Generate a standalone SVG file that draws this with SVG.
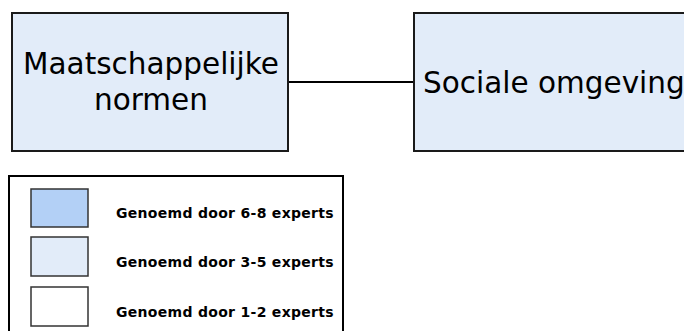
<svg xmlns="http://www.w3.org/2000/svg" width="684" height="331" viewBox="0 0 684 331">
  <style>
    .node { fill: #e2ecf9; stroke: #1a1a1a; stroke-width: 2; }
    .label { font-family: "DejaVu Sans", Verdana, sans-serif; font-size: 29.5px; fill: #000; }
    .edge { stroke: #000; stroke-width: 2; fill: none; }
    .legend-frame { fill: #fff; stroke: #000; stroke-width: 2; }
    .swatch { stroke: #333; stroke-width: 1.5; }
    .legend-text { font-family: "DejaVu Sans", Verdana, sans-serif; font-size: 14px; letter-spacing: 0.3px; font-weight: bold; fill: #000; }
  </style>
  <rect width="684" height="331" fill="#fff"/>

  <g id="connectors">
    <line class="edge" x1="288" y1="82" x2="414" y2="82"/>
  </g>

  <g id="maatschappelijke-normen">
    <rect class="node" x="12" y="13" width="276" height="138"/>
    <text class="label" x="151" y="74" text-anchor="middle">Maatschappelijke</text>
    <text class="label" x="151" y="110" text-anchor="middle">normen</text>
  </g>

  <g id="sociale-omgeving">
    <rect class="node" x="414" y="13" width="290" height="138"/>
    <text class="label" x="423" y="93">Sociale omgeving</text>
  </g>

  <g id="legend">
    <rect class="legend-frame" x="9" y="176" width="334" height="170"/>
    <rect class="swatch" x="31" y="189" width="57" height="38" fill="#b3d0f6"/>
    <text class="legend-text" x="116" y="218">Genoemd door 6-8 experts</text>
    <rect class="swatch" x="31" y="237" width="57" height="39" fill="#e2ecf9"/>
    <text class="legend-text" x="116" y="267">Genoemd door 3-5 experts</text>
    <rect class="swatch" x="31" y="287" width="57" height="39" fill="#ffffff"/>
    <text class="legend-text" x="116" y="317">Genoemd door 1-2 experts</text>
  </g>
</svg>
